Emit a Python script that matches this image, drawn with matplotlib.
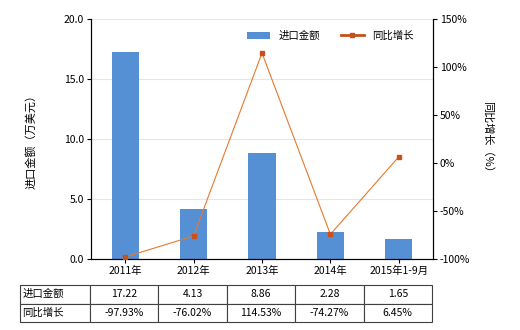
import matplotlib
matplotlib.use("Agg")
import matplotlib.pyplot as plt
from matplotlib.lines import Line2D
import numpy as np

plt.rcParams['font.family'] = ['Noto Sans CJK SC', 'DejaVu Sans']
plt.rcParams['axes.unicode_minus'] = False

years = ["2011年", "2012年", "2013年", "2014年", "2015年1-9月"]
amount = [17.22, 4.13, 8.86, 2.28, 1.65]
growth = [-97.93, -76.02, 114.53, -74.27, 6.45]
amount_txt = ["17.22", "4.13", "8.86", "2.28", "1.65"]
growth_txt = ["-97.93%", "-76.02%", "114.53%", "-74.27%", "6.45%"]

fig = plt.figure(figsize=(5.2, 3.3), dpi=100)
ax = fig.add_axes([91/520, 71/330, 342/520, 240/330])
x = np.arange(len(years))

ax.bar(x, amount, width=0.4, color="#5590D5", zorder=2, label="进口金额")
ax.set_xlim(-0.5, len(years) - 0.5)
ax.set_ylim(0, 20)
ax.set_yticks([0, 5, 10, 15, 20])
ax.set_yticklabels(["0.0", "5.0", "10.0", "15.0", "20.0"], fontsize=7.5)
ax.set_xticks(x)
ax.set_xticklabels(years, fontsize=7.5)
ax.grid(axis='y', color="#e6e6e6", linewidth=0.8, zorder=0)
ax.spines['top'].set_visible(False)
ax.tick_params(axis='both', length=3, width=0.8, pad=2)
ax.set_ylabel("进口金额（万美元）", fontsize=8, labelpad=20)

ax2 = ax.twinx()
ax2.plot(x, growth, color="#E8782E", linewidth=0.8, marker="s", markersize=3.5,
         markerfacecolor="#C8501A", markeredgecolor="#C8501A", zorder=3)
ax2.set_ylim(-100, 150)
ax2.set_yticks([-100, -50, 0, 50, 100, 150])
ax2.set_yticklabels(["-100%", "-50%", "0%", "50%", "100%", "150%"], fontsize=7.5)
ax2.spines['top'].set_visible(False)
ax2.tick_params(axis='y', length=3, width=0.8, pad=2)
ax2.set_ylabel("同比增长（%）", fontsize=8, rotation=-90, labelpad=16)

h1, l1 = ax.get_legend_handles_labels()
line_h = Line2D([], [], color="#C8501A", linewidth=2, marker="s", markersize=3.5)
ax2.legend(h1 + [line_h], l1 + ["同比增长"], loc='upper right', bbox_to_anchor=(0.97, 0.99), ncol=2,
           frameon=False, fontsize=7.5, handlelength=2.2, columnspacing=2.0)

cells = [["进口金额"] + amount_txt, ["同比增长"] + growth_txt]
tb = ax.table(cellText=cells, colWidths=[70/412] + [68.4/412]*5,
              bbox=[(20-91)/342, (259-322)/240, 412/342, 37/240], cellLoc='center')
tb.auto_set_font_size(False)
tb.set_fontsize(7.5)
for (r, c), cell in tb.get_celld().items():
    cell.set_edgecolor("#404040")
    cell.set_linewidth(0.8)
    if c == 0:
        cell.set_text_props(ha='left')
        cell.PAD = 0.03

fig.savefig("out.png", dpi=100)
